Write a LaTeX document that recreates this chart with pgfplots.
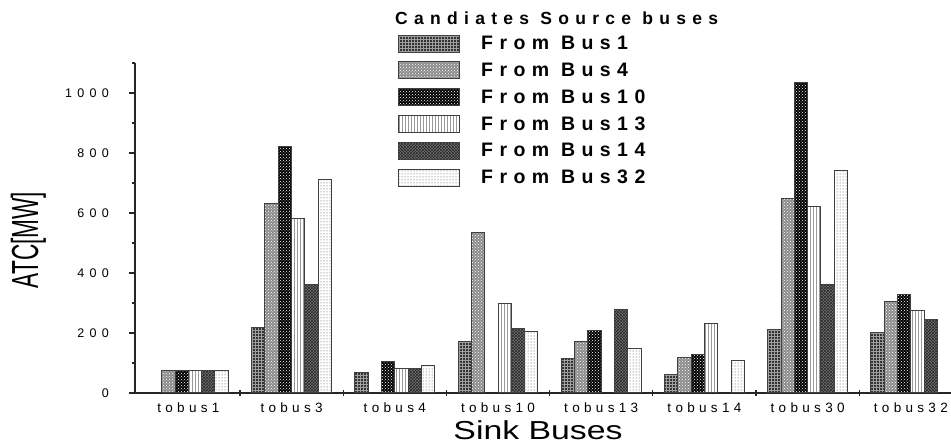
\documentclass[border=0pt]{standalone}
\usepackage{pgfplots}
\pgfplotsset{compat=1.18}
\usetikzlibrary{patterns}
\usepackage{fontspec}
\setmainfont{Liberation Sans}
\newfontfamily\tickfont[LetterSpace=32]{Liberation Sans}
\newfontfamily\ytickfont[LetterSpace=42]{Liberation Sans}
\newfontfamily\legfont[LetterSpace=33]{Liberation Sans}
\newfontfamily\titfont[LetterSpace=36]{Liberation Sans}
\begin{document}
\begin{tikzpicture}
\useasboundingbox (0,0) rectangle (951pt,444pt);
\pgfplotsset{
  limg/.style={/pgfplots/legend image code/.code={\draw[##1] (0pt,-8.5pt) rectangle (61pt,8.5pt);}},
  sA/.style={draw=black!75, line width=1pt, fill=black!80, postaction={pattern=grid, pattern color=gray!75}, limg},
  sB/.style={draw=black!75, line width=1pt, fill=gray!90, postaction={pattern=crosshatch dots, pattern color=white}, limg},
  sC/.style={draw=black!75, line width=1pt, fill=black, postaction={pattern=crosshatch dots, pattern color=white}, limg},
  sD/.style={draw=black!75, line width=1pt, fill=white, postaction={pattern=vertical lines, pattern color=gray!80}, limg},
  sE/.style={draw=black!75, line width=1pt, fill=black!55, postaction={pattern=crosshatch, pattern color=black!85}, limg},
  sF/.style={draw=black!75, line width=1pt, fill=white, postaction={pattern=dots, pattern color=black!75}, limg},
}
\begin{axis}[
  at={(135pt,51pt)}, anchor=south west,
  scale only axis, width=816pt, height=330pt,
  xmin=-0.517, xmax=7.389, ymin=0, ymax=1100,
  axis lines*=left,
  axis line style={line width=1.3pt, draw=black!85},
  ybar=0pt, bar width=0.129,
  tick align=outside,
  major tick length=6pt, minor tick length=3pt,
  every tick/.style={line width=1.2pt, draw=black!85},
  ytick={0,200,...,1000},
  minor ytick={100,300,...,1100},
  /pgf/number format/assume math mode=true,
  /pgf/number format/1000 sep={},
  yticklabel style={font=\ytickfont\fontsize{12.5}{13}\selectfont, inner sep=0pt, xshift=-20pt},
  xtick={0,...,7},
  xticklabels={tobus1,tobus3,tobus4,tobus10,tobus13,tobus14,tobus30,tobus32},
  xticklabel style={font=\tickfont\fontsize{13.5}{14}\selectfont, inner sep=0pt, yshift=-4pt},
  major x tick style={draw=none},
  extra x ticks={0.5,1.5,...,6.5},
  extra x tick labels={},
  extra x tick style={tick align=center, major x tick style={draw=black!85, line width=1.2pt}},
  legend cell align=left,
  legend style={draw=none, fill=none, at={(0.3223,1.0864)}, anchor=north west,
    inner sep=0pt, row sep=8.8pt, column sep=21pt,
    nodes={inner sep=0pt},
    font=\legfont\bfseries\fontsize{19.5}{20}\selectfont},
]
\addplot[sA, bar shift=-0.3225] coordinates {(1,217) (2,67) (3,170) (4,116) (5,61) (6,212) (7,202)};
\addplot[sB, bar shift=-0.1935] coordinates {(0,75) (1,630) (3,535) (4,171) (5,119) (6,649) (7,305)};
\addplot[sC, bar shift=-0.0645] coordinates {(0,75) (1,821) (2,104) (4,209) (5,128) (6,1034) (7,329)};
\addplot[sD, bar shift=0.0645] coordinates {(0,75) (1,583) (2,80) (3,297) (5,230) (6,622) (7,274)};
\addplot[sE, bar shift=0.1935] coordinates {(0,75) (1,363) (2,80) (3,214) (4,277) (6,361) (7,246)};
\addplot[sF, bar shift=0.3225] coordinates {(0,75) (1,713) (2,91) (3,206) (4,148) (5,108) (6,741)};
\addlegendentry{From Bus1}
\addlegendentry{From Bus4}
\addlegendentry{From Bus10}
\addlegendentry{From Bus13}
\addlegendentry{From Bus14}
\addlegendentry{From Bus32}
\end{axis}
\node[anchor=west, inner sep=0pt] at (395pt,426pt) {\titfont\bfseries\fontsize{17.5}{18}\selectfont Candiates Source buses};
\node[rotate=90, inner sep=0pt] at (28.5pt,204pt) {\scalebox{0.6}[1]{\fontsize{37.7}{40}\selectfont ATC[MW]}};
\node[anchor=base, inner sep=0pt] at (538pt,4pt) {\scalebox{1.3}[1]{\fontsize{26}{28}\selectfont Sink Buses}};
\end{tikzpicture}
\end{document}
